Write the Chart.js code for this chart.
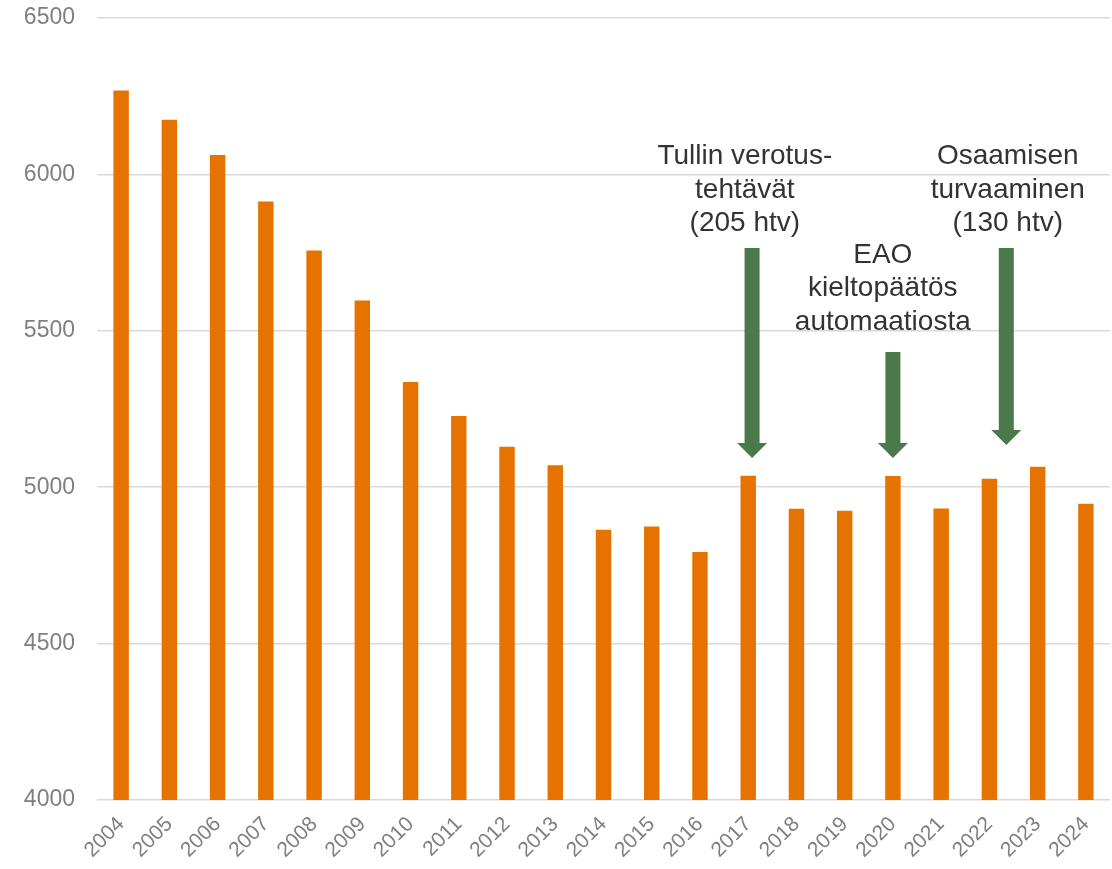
<!DOCTYPE html>
<html>
<head>
<meta charset="utf-8">
<script src="https://cdn.jsdelivr.net/npm/chart.js@4/dist/chart.umd.min.js"></script>
<style>
  html, body { margin: 0; padding: 0; background: #ffffff; }
  #wrap { width: 1112px; height: 869px; position: relative; }
</style>
</head>
<body>
<div id="wrap"><canvas id="chart"></canvas></div>
<script>
// vuodet ja henkilötyövuodet
const years = ['2004', '2005', '2006', '2007', '2008', '2009', '2010', '2011', '2012', '2013', '2014',
               '2015', '2016', '2017', '2018', '2019', '2020', '2021', '2022', '2023', '2024'];
const staff = [6268, 6175, 6062, 5913, 5757, 5597, 5336, 5228, 5129, 5070, 4864,
               4874, 4793, 5037, 4931, 4925, 5036, 4932, 5027, 5065, 4947];
const yTicks = [4000, 4500, 5000, 5500, 6000, 6500];

// huomautukset: nuolen paikka (luokkaindeksi), nuolen alku- ja kärkiarvo, teksti
const noteIndex = [13.08, 16.0, 18.35];
const noteArrowTop = [5765, 5432, 5765];
const noteArrowTip = [5093, 5093, 5135];
const noteTextIndex = [12.93, 15.79, 18.38];
const noteTextTop = [6033, 5717, 6033];
const noteLines = [
  ['Tullin verotus-', 'tehtävät', '(205 htv)'],
  ['EAO', 'kieltopäätös', 'automaatiosta'],
  ['Osaamisen', 'turvaaminen', '(130 htv)']
];

const arrowPlugin = {
  id: 'arrows',
  afterDatasetsDraw(chart) {
    const ctx = chart.ctx;
    const xs = chart.scales.x;
    const ys = chart.scales.y;
    ctx.save();
    noteIndex.forEach((idx, i) => {
      const x = xs.getPixelForValue(idx);
      const top = ys.getPixelForValue(noteArrowTop[i]);
      const tip = ys.getPixelForValue(noteArrowTip[i]);
      const headH = 15, shaftW = 7.5, headW = 15;
      ctx.fillStyle = '#4a7a4a';
      ctx.beginPath();
      ctx.moveTo(x - shaftW, top);
      ctx.lineTo(x + shaftW, top);
      ctx.lineTo(x + shaftW, tip - headH);
      ctx.lineTo(x + headW, tip - headH);
      ctx.lineTo(x, tip);
      ctx.lineTo(x - headW, tip - headH);
      ctx.lineTo(x - shaftW, tip - headH);
      ctx.closePath();
      ctx.fill();

      const tx = xs.getPixelForValue(noteTextIndex[i]);
      const ty = ys.getPixelForValue(noteTextTop[i]);
      ctx.fillStyle = '#333333';
      ctx.font = '28px "Liberation Sans", Arial, sans-serif';
      ctx.textAlign = 'center';
      ctx.textBaseline = 'alphabetic';
      noteLines[i].forEach((line, k) => {
        ctx.fillText(line, tx, ty + k * 33.5);
      });
    });
    ctx.restore();
  }
};

const ctx = document.getElementById('chart').getContext('2d');
new Chart(ctx, {
  type: 'bar',
  data: {
    labels: years,
    datasets: [{
      data: staff,
      backgroundColor: '#e67300',
      borderWidth: 0,
      categoryPercentage: 1,
      barPercentage: 0.32
    }]
  },
  options: {
    responsive: true,
    maintainAspectRatio: false,
    animation: false,
    layout: { padding: { left: 23, right: 2, top: 18, bottom: 0 } },
    plugins: {
      legend: { display: false },
      tooltip: { enabled: false }
    },
    scales: {
      x: {
        grid: { display: false, drawTicks: false },
        border: { display: false },
        ticks: {
          color: '#7f7f7f',
          font: { family: '"Liberation Sans", Arial, sans-serif', size: 21 },
          minRotation: 45,
          maxRotation: 45,
          padding: 12
        },
        afterFit(axis) { axis.height = 69; axis.paddingLeft = 0; axis.paddingRight = 0; }
      },
      y: {
        min: 4000,
        max: 6500,
        afterBuildTicks(axis) { axis.ticks = yTicks.map(v => ({ value: v })); },
        grid: { color: '#d9d9d9', lineWidth: 1.5, drawTicks: false },
        border: { display: false },
        ticks: {
          color: '#7f7f7f',
          font: { family: '"Liberation Sans", Arial, sans-serif', size: 23 },
          padding: 22,
          callback: v => String(v)
        },
        afterFit(axis) { axis.width = 74; axis.paddingTop = 0; axis.paddingBottom = 0; }
      }
    }
  },
  plugins: [arrowPlugin]
});
</script>
</body>
</html>
